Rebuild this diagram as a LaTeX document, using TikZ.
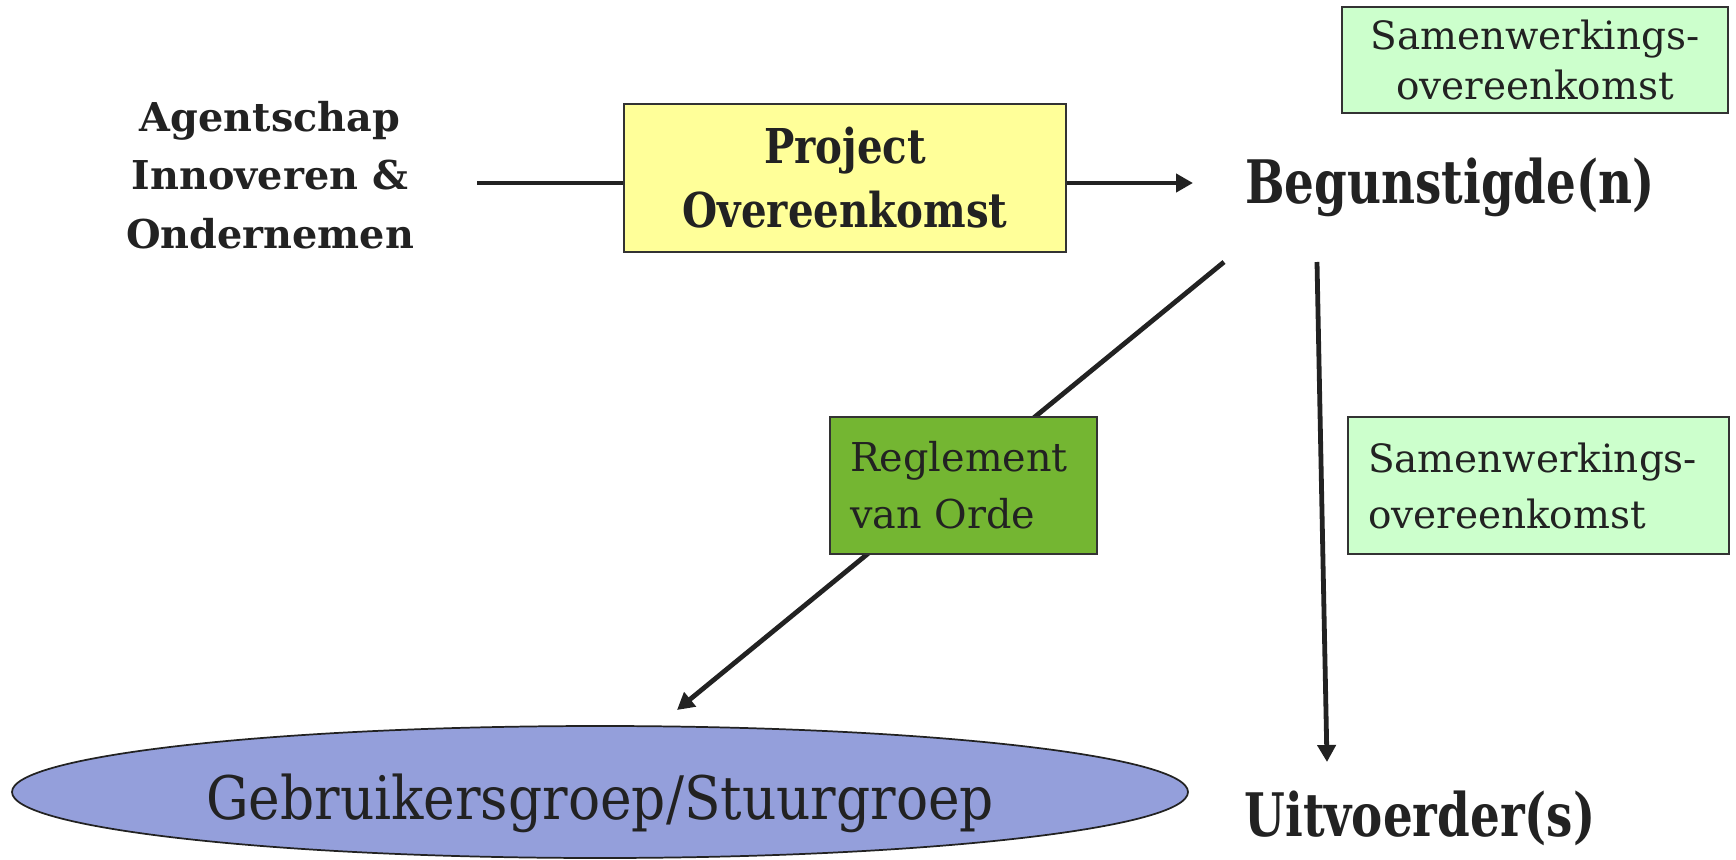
\documentclass[tikz,border=0pt]{standalone}
\usepackage{fontspec}
\setmainfont{DejaVu Serif}
\newfontfamily\slabpo{DejaVu Serif}[FakeStretch=0.84]
\newfontfamily\slabbig{DejaVu Serif}[FakeStretch=0.78]
\newfontfamily\slabgroup{DejaVu Serif}[FakeStretch=0.89]
\usetikzlibrary{arrows.meta,backgrounds,shapes.geometric}
\definecolor{ink}{HTML}{222222}
\definecolor{edge}{HTML}{333333}
\definecolor{paleyellow}{HTML}{FFFF99}
\definecolor{palegreen}{HTML}{CCFFCC}
\definecolor{leafgreen}{HTML}{74B632}
\definecolor{lavender}{HTML}{949FDB}
\begin{document}
\begin{tikzpicture}[x=0.75pt,y=-0.75pt,
  every node/.style={text=ink, inner sep=0pt, outer sep=0pt},
  conn/.style={draw=ink, line width=3.6pt, -{Triangle[length=12.75pt,width=13.5pt]}},
  box/.style={draw=edge, line width=1.3pt, rectangle},
  f-agent/.style={font=\bfseries\fontsize{29.8pt}{44pt}\selectfont, align=center},
  f-po/.style={font=\slabpo\bfseries\fontsize{36pt}{48pt}\selectfont, align=center},
  f-big/.style={font=\slabbig\bfseries\fontsize{45pt}{54pt}\selectfont},
  f-sam/.style={font=\fontsize{29.2pt}{38pt}\selectfont},
  f-reg/.style={font=\fontsize{29.8pt}{43pt}\selectfont},
  f-group/.style={font=\slabgroup\fontsize{45pt}{54pt}\selectfont}]
\useasboundingbox (0,0) rectangle (1736,860);
% nodes
\node[f-agent] (agent) at (270,175) {Agentschap\\Innoveren \&\\Ondernemen};
\node[box, fill=paleyellow, minimum width=331.5pt, minimum height=111pt, f-po] (po) at (845,178) {Project\\Overeenkomst};
\node[f-big, anchor=base] (benef) at (1450,203) {Begunstigde(n)};
\node[box, fill=palegreen, minimum width=289.5pt, minimum height=79.5pt, f-sam, align=center] (sam1) at (1535,60) {Samenwerkings-\\overeenkomst};
\node[box, fill=leafgreen, minimum width=200.25pt, minimum height=102.75pt, f-reg, align=left, text width=170.25pt, inner xsep=15pt] (reg) at (963.5,485.5) {Reglement\\van Orde};
\node[box, fill=palegreen, minimum width=285.75pt, minimum height=102.75pt, f-sam, align=left, text width=255.75pt, inner xsep=15pt, font=\fontsize{29.2pt}{42pt}\selectfont] (sam2) at (1538.5,485.5) {Samenwerkings-\\overeenkomst};
\node[ellipse, draw=ink, line width=1.3pt, fill=lavender, minimum width=882pt, minimum height=99pt] (group) at (600,792) {};
\node[f-group, anchor=base] (grouptext) at (600,819) {Gebruikersgroep/Stuurgroep};
\node[f-big, anchor=base] (uitv) at (1420,836) {Uitvoerder(s)};
% connector end points
\coordinate (hstart) at (477,183);
\coordinate (htip) at (1193,183);
\coordinate (dstart) at (1224,262);
\coordinate (dtip) at (677,710);
\coordinate (vstart) at (1317,262);
\coordinate (vtip) at (1327,762);
\begin{scope}[on background layer]
\draw[conn] (hstart) -- (htip);
\draw[conn] (dstart) -- (dtip);
\draw[conn] (vstart) -- (vtip);
\end{scope}
\end{tikzpicture}
\end{document}
